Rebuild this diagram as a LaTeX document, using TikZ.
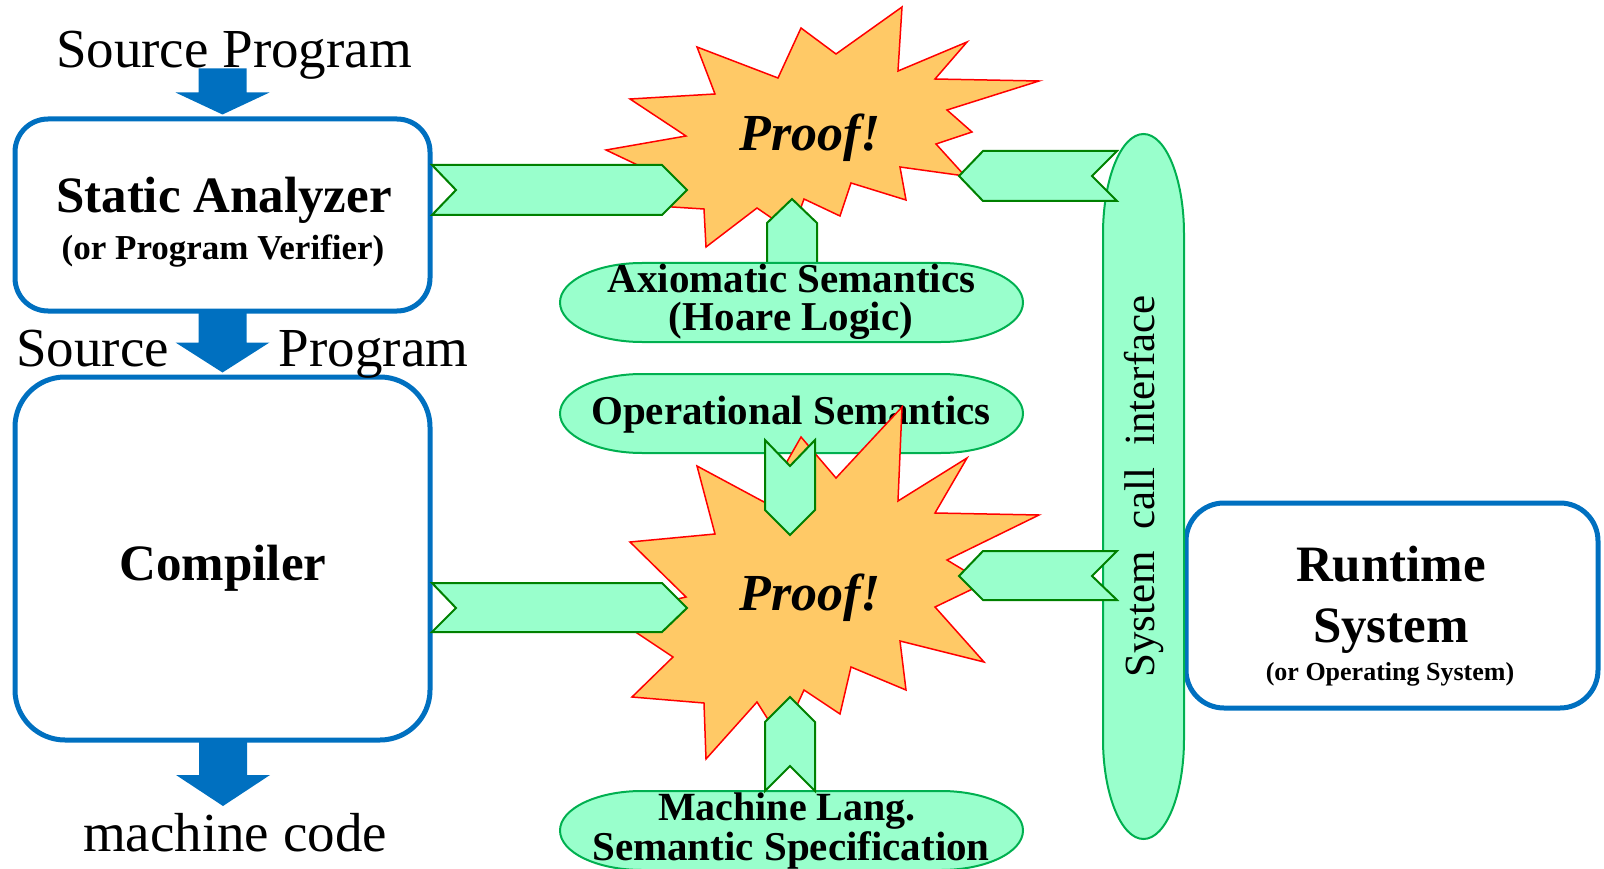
\documentclass[tikz,border=0pt]{standalone}
\usepackage{fontspec}
\setmainfont{Liberation Serif}
\usetikzlibrary{calc}
\definecolor{boxblue}{HTML}{0070C0}
\definecolor{mintfill}{HTML}{99FFCC}
\definecolor{chevgreen}{HTML}{008000}
\definecolor{ovalgreen}{HTML}{00B050}
\definecolor{starfill}{HTML}{FFC966}
\newcommand\fsz[1]{\fontsize{#1}{#1}\selectfont}
\newcommand\blockdown[3]{%
  \fill[boxblue] ($(#1)+(-24,-#3-#2)$) -- ++(48,0) -- ++(0,#2) -- ++(23,0)
    -- (#1) -- ++(-47,-#3) -- ++(23,0) -- cycle;}
% horizontal oval with elliptic ends: centre, width, height, end radius
\newcommand\ovalH[4]{%
  \path[oval] ($(#1)+(-#2/2+#4,-#3/2)$) -- ++(#2-2*#4,0)
    arc[start angle=-90,end angle=90,x radius=#4,y radius=#3/2]
    -- ++(-#2+2*#4,0)
    arc[start angle=90,end angle=270,x radius=#4,y radius=#3/2] -- cycle;}
% vertical oval with elliptic ends
\newcommand\ovalV[4]{%
  \path[oval] ($(#1)+(-#2/2,-#3/2+#4)$)
    arc[start angle=180,end angle=360,x radius=#2/2,y radius=#4]
    -- ++(0,#3-2*#4)
    arc[start angle=0,end angle=180,x radius=#2/2,y radius=#4] -- cycle;}
\begin{document}
\begin{tikzpicture}[x=1pt,y=-1pt,
  bluebox/.style={draw=boxblue, line width=5pt, fill=white, inner sep=0, rectangle},
  chev/.style={fill=mintfill, draw=chevgreen, line width=2pt, line join=miter},
  oval/.style={fill=mintfill, draw=ovalgreen, line width=2pt},
  burst/.style={fill=starfill, draw=red, line width=1.5pt, line join=miter},
  txt/.style={inner sep=0, anchor=base},
]
\useasboundingbox (0,0) rectangle (1604,869);

% ---------- left column ----------
\node[bluebox, rounded corners=33pt, minimum width=415pt, minimum height=192pt] (sa) at (222.5,215) {};
\node[bluebox, rounded corners=50pt, minimum width=415pt, minimum height=363pt] (comp) at (222.5,558.5) {};
\node[bluebox, rounded corners=38pt, minimum width=412pt, minimum height=205pt] (rt) at (1392,605.5) {};

\node[txt, font=\fsz{55}] (srctop) at (234,68) {Source Program};
\node[txt, font=\fsz{51}\bfseries] (satitle) at (224,213) {Static Analyzer};
\node[txt, font=\fsz{35}\bfseries] (sasub) at (223,259) {(or Program Verifier)};
\node[txt, font=\fsz{55}] (srcmid) at (92.5,366) {Source};
\node[txt, font=\fsz{55}] (progmid) at (373.5,366) {Program};
\node[txt, font=\fsz{51}\bfseries] (comptitle) at (223,580) {Compiler};
\node[txt, font=\fsz{55}] (mcode) at (235,851) {machine code};

\node[txt, font=\fsz{51}\bfseries] (rt1) at (1391,581) {Runtime};
\node[txt, font=\fsz{51}\bfseries] (rt2) at (1391,642) {System};
\node[txt, font=\fsz{26}\bfseries] (rt3) at (1390,680) {(or Operating System)};

\coordinate (tip1) at ($(sa.north)+(0,-2)$);
\coordinate (tip2) at ($(comp.north)+(0,-2)$);
\coordinate (tip3) at (223,806);
\blockdown{tip1}{24}{22}
\blockdown{tip2}{32}{30}
\blockdown{tip3}{33}{31}

% ---------- system call interface ----------
\coordinate (sci) at (1143.5,486.5);
\ovalV{sci}{81}{705}{100}
\node[inner sep=0, rotate=90, font=\fsz{43}] (scit) at (sci) {System\ \ call\ \ interface};

% ---------- top proof ----------
\path[burst] (902,7) -- (898,71) -- (967,42) -- (935,79) -- (1039,81) -- (947,110)
  -- (972,132) -- (936,144) -- (965,176) -- (900,167) -- (906,200) -- (851,183)
  -- (840,216) -- (804,199) -- (792,232) -- (757,208) -- (706,247) -- (704,209)
  -- (625,204) -- (665,178) -- (606,150) -- (686,136) -- (630,99) -- (715,94)
  -- (697,47) -- (778,78) -- (801,28) -- (836,54) -- cycle;
\node[txt, font=\fsz{52}\bfseries\itshape] (proof1) at (810,151) {Proof!};

% up chevron from axiomatic
\path[chev] (767,275) -- (767,223) -- (792,199) -- (817,223) -- (817,275) -- cycle;
\coordinate (axi) at (791.5,302.5);
\ovalH{axi}{463}{79}{82}
\node[txt, font=\fsz{41}\bfseries] (axi1) at (791.5,292) {Axiomatic Semantics};
\node[txt, font=\fsz{41}\bfseries] (axi2) at (791,330) {(Hoare Logic)};

% ---------- operational ----------
\coordinate (ops) at (791.5,413.5);
\ovalH{ops}{463}{79}{82}
\node[txt, font=\fsz{41}\bfseries] (ops1) at (791,424) {Operational Semantics};

% ---------- bottom proof ----------
\path[burst] (902,407) -- (898,501) -- (967,458) -- (935,513) -- (1039,515) -- (947,560)
  -- (985,583) -- (935,607) -- (984,662) -- (900,641) -- (906,690) -- (851,667)
  -- (840,714) -- (804,690) -- (781,740) -- (757,702) -- (706,759) -- (704,703)
  -- (632,697) -- (673,657) -- (610,615) -- (686,597) -- (630,542) -- (715,534)
  -- (697,466) -- (764,502) -- (801,437) -- (836,478) -- cycle;
\node[txt, font=\fsz{52}\bfseries\itshape] (proof2) at (810,610) {Proof!};

% down chevron from operational
\path[chev] (765,440) -- (790,466) -- (815,440) -- (815,510) -- (790,535) -- (765,510) -- cycle;

% machine language
\coordinate (mls) at (791.5,830.5);
\ovalH{mls}{463}{79}{82}
\node[txt, font=\fsz{40}\bfseries] (mls1) at (787,820) {Machine Lang.};
\node[txt, font=\fsz{41}\bfseries] (mls2) at (791,860) {Semantic Specification};
\path[chev] (765,791) -- (790,766) -- (815,791) -- (815,722) -- (790,697) -- (765,722) -- cycle;

% ---------- horizontal chevrons ----------
\path[chev] (432,165) -- (662,165) -- (687,190) -- (662,215) -- (432,215) -- (456,190) -- cycle;
\path[chev] (432,583) -- (662,583) -- (687,608) -- (662,632) -- (432,632) -- (456,608) -- cycle;
\path[chev] (1117,151) -- (983,151) -- (959,176) -- (983,201) -- (1117,201) -- (1092,176) -- cycle;
\path[chev] (1117,551) -- (983,551) -- (959,576) -- (983,600) -- (1117,600) -- (1092,576) -- cycle;
\end{tikzpicture}
\end{document}
